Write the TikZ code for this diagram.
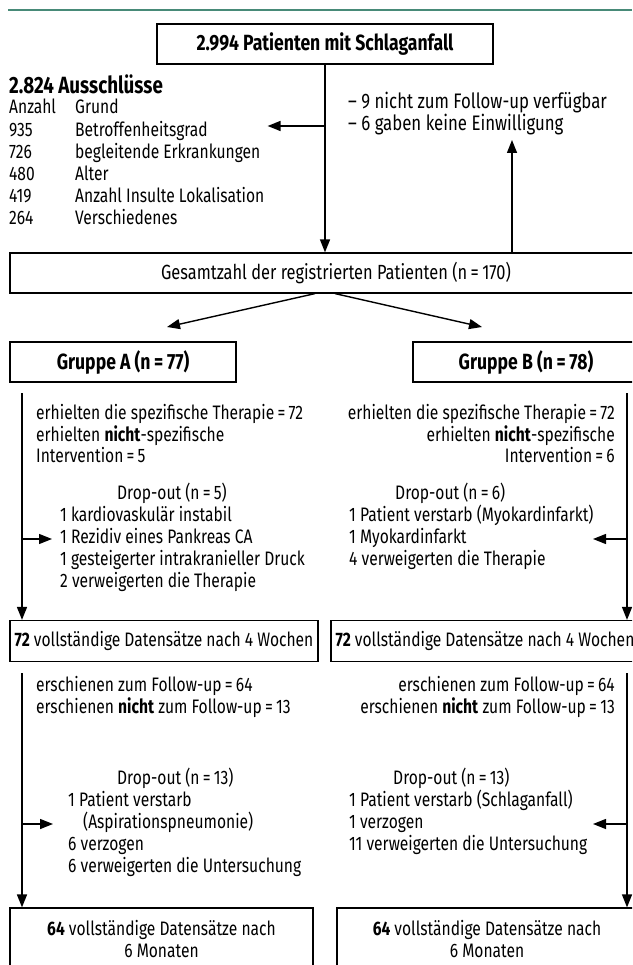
\documentclass[tikz,border=0pt]{standalone}
\usepackage{fontspec}
\setmainfont{Fira Sans}[FakeStretch=0.8]
\usepackage{tikz}
\usetikzlibrary{arrows.meta}
\usetikzlibrary{positioning}
\definecolor{rulegreen}{RGB}{72,138,120}

\begin{document}
\begin{tikzpicture}[x=1pt,y=-1pt]
	\tikzstyle{box}=[draw,line width=1.2pt,rectangle,minimum height=40pt,inner sep=0pt,font=\fontsize{19.5}{22}\selectfont]
	\tikzstyle{head}=[box,font=\fontsize{22}{24}\selectfont\bfseries]
	\tikzstyle{txt}=[inner sep=0pt,anchor=west,text height=14pt,text depth=5pt,font=\fontsize{19.5}{22}\selectfont]
	\tikzstyle{rtxt}=[txt,anchor=east]
	\tikzstyle{edge}=[draw,line width=1.4pt,-{Triangle[length=13pt,width=10pt]},black]

	\useasboundingbox (0,0) rectangle (632,965);
	\clip (0,0) rectangle (632,965);
	\draw[rulegreen,line width=2.5pt] (8,10) -- (632,10);

	% screening
	\node[head,minimum width=336pt] (start) at (325,44) {2.994 Patienten mit Schlaganfall};
	\node[txt,font=\fontsize{23.5}{24}\selectfont\bfseries] (excl) at (9,89) {2.824 Ausschlüsse};
	\node[txt] (a0) at (9,109) {Anzahl};	\node[txt] (r0) at (75,109) {Grund};
	\node[txt] (a1) at (9,132) {935};	\node[txt] (r1) at (75,132) {Betroffenheitsgrad};
	\node[txt] (a2) at (9,154) {726};	\node[txt] (r2) at (75,154) {begleitende Erkrankungen};
	\node[txt] (a3) at (9,176) {480};	\node[txt] (r3) at (75,176) {Alter};
	\node[txt] (a4) at (9,198) {419};	\node[txt] (r4) at (75,198) {Anzahl Insulte Lokalisation};
	\node[txt] (a5) at (9,220) {264};	\node[txt] (r5) at (75,220) {Verschiedenes};
	\node[txt,font=\fontsize{21}{22}\selectfont] (lost1) at (348,104) {– 9 nicht zum Follow-up verfügbar};
	\node[txt,font=\fontsize{21}{22}\selectfont] (lost2) at (348,126) {– 6 gaben keine Einwilligung};
	\coordinate (uptip) at (512,140);

	\node[box,minimum width=652pt,font=\fontsize{20.5}{22}\selectfont] (total) at (336,273) {Gesamtzahl der registrierten Patienten (n\,=\,170)};
	\coordinate (tipA) at (167,327);
	\coordinate (tipB) at (482,327);
	\node[head,minimum width=226pt] (grpA) at (123,362) {Gruppe A (n\,=\,77)};
	\node[head,minimum width=226pt] (grpB) at (526,362) {Gruppe B (n\,=\,78)};

	% Gruppe A, 4 Wochen
	\coordinate (la) at (22,393);
	\node[txt] (thA1) at (36,415) {erhielten die spezifische Therapie\,=\,72};
	\node[txt] (thA2) at (36,437) {erhielten \textbf{nicht}-spezifische};
	\node[txt] (thA3) at (36,458) {Intervention\,=\,5};
	\node[txt] (dA0) at (117,495) {Drop-out (n\,=\,5)};
	\node[txt] (dA1) at (60,517) {1 kardiovaskulär instabil};
	\node[txt] (dA2) at (60,539) {1 Rezidiv eines Pankreas CA};
	\node[txt] (dA3) at (60,561) {1 gesteigerter intrakranieller Druck};
	\node[txt] (dA4) at (60,583) {2 verweigerten die Therapie};

	% Gruppe B, 4 Wochen
	\coordinate (ra) at (627,393);
	\coordinate (tipR1) at (593,539);
	\node[rtxt] (thB1) at (615,415) {erhielten die spezifische Therapie\,=\,72};
	\node[rtxt] (thB2) at (615,437) {erhielten \textbf{nicht}-spezifische};
	\node[rtxt] (thB3) at (615,458) {Intervention\,=\,6};
	\node[txt] (dB0) at (395,495) {Drop-out (n\,=\,6)};
	\node[txt] (dB1) at (349,517) {1 Patient verstarb (Myokardinfarkt)};
	\node[txt] (dB2) at (349,539) {1 Myokardinfarkt};
	\node[txt] (dB3) at (349,561) {4 verweigerten die Therapie};

	\node[box,minimum width=308pt,minimum height=41pt] (wkA) at (164,641) {\textbf{72} vollständige Datensätze nach 4 Wochen};
	\node[box,minimum width=308pt,minimum height=41pt] (wkB) at (485,641) {\textbf{72} vollständige Datensätze nach 4 Wochen};

	% 6 Monate
	\coordinate (lb) at (22,673);
	\coordinate (rb) at (627,673);
	\coordinate (tipR2) at (593,824);
	\node[txt] (fuA1) at (36,687) {erschienen zum Follow-up\,=\,64};
	\node[txt] (fuA2) at (36,709) {erschienen \textbf{nicht} zum Follow-up\,=\,13};
	\node[rtxt] (fuB1) at (615,687) {erschienen zum Follow-up\,=\,64};
	\node[rtxt] (fuB2) at (615,709) {erschienen \textbf{nicht} zum Follow-up\,=\,13};
	\node[txt] (dC0) at (117,780) {Drop-out (n\,=\,13)};
	\node[txt] (dC1) at (68,802) {1 Patient verstarb};
	\node[txt] (dC2) at (83,824) {(Aspirationspneumonie)};
	\node[txt] (dC3) at (68,846) {6 verzogen};
	\node[txt] (dC4) at (68,868) {6 verweigerten die Untersuchung};
	\node[txt] (dD0) at (393,780) {Drop-out (n\,=\,13)};
	\node[txt] (dD1) at (349,802) {1 Patient verstarb (Schlaganfall)};
	\node[txt] (dD2) at (349,824) {1 verzogen};
	\node[txt] (dD3) at (349,846) {11 verweigerten die Untersuchung};

	\node[box,minimum width=303pt,minimum height=62pt,align=center] (moA) at (161.5,939) {\textbf{64} vollständige Datensätze nach\\6 Monaten};
	\node[box,minimum width=300pt,minimum height=62pt,align=center] (moB) at (487,939) {\textbf{64} vollständige Datensätze nach\\6 Monaten};

	\draw[edge] (start) -- (start |- total.north);
	\draw[edge] (start.south |- lost2) -- ([xshift=7pt]r2.east |- lost2);
	\draw[edge] (uptip |- total.north) -- (uptip);
	\draw[edge] ([xshift=-21pt]total.south) -- (tipA);
	\draw[edge] ([xshift=-1pt]total.south) -- (tipB);

	\draw[edge] (la) -- (la |- wkA.north);
	\draw[edge] (la |- dA2) -- ([xshift=-8pt]dA2.west);
	\draw[edge] (ra) -- (ra |- wkB.north);
	\draw[edge] (ra |- tipR1) -- (tipR1);

	\draw[edge] (lb) -- (lb |- moA.north);
	\draw[edge] (lb |- dC2) -- ([xshift=-30pt]dC2.west);
	\draw[edge] (rb) -- (rb |- moB.north);
	\draw[edge] (rb |- tipR2) -- (tipR2);
\end{tikzpicture}
\end{document}
